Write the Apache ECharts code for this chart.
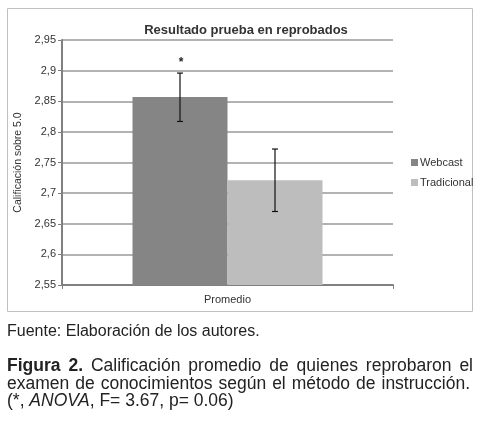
<!DOCTYPE html>
<html>
<head>
<meta charset="utf-8">
<script src="https://cdn.jsdelivr.net/npm/echarts@6/dist/echarts.min.js"></script>
<style>
html,body{margin:0;padding:0;background:#fff}
#chart{width:490px;height:425px}
</style>
</head>
<body>
<div id="chart"></div>
<script>
// datos
var categorias = ['Promedio']
var series = ['Webcast', 'Tradicional']
var medias = [2.857, 2.721]
var errSup = [2.896, 2.772]
var errInf = [2.817, 2.670]
var signif = ['*', '']
var yTicks = ['2,55', '2,6', '2,65', '2,7', '2,75', '2,8', '2,85', '2,9', '2,95']
var colores = ['#858585', '#bdbdbd']

var fuente = 'Liberation Sans'

var chart = echarts.init(document.getElementById('chart'))
var gapCat = 0.426

// pie de figura justificado (palabras colocadas una a una)
var capSize = 17.5
var ctx = document.createElement('canvas').getContext('2d')
function ancho(txt, bold) {
    ctx.font = (bold ? 'bold ' : '') + capSize + 'px "' + fuente + '"'
    return ctx.measureText(txt).width
}
function lineaJust(palabras, y, x0, x1) {
    var tot = 0
    palabras.forEach(function (p) { p.w = ancho(p.t, p.b); tot += p.w })
    var gap = (x1 - x0 - tot) / (palabras.length - 1)
    var x = x0, els = []
    palabras.forEach(function (p) {
        els.push({ type: 'text', x: x, y: y, style: { text: p.t, fontSize: capSize, fontWeight: p.b ? 'bold' : 'normal', fill: '#222', fontFamily: fuente, verticalAlign: 'middle' } })
        x += p.w + gap
    })
    return els
}
function palabras(str, bold) {
    return str.split(' ').map(function (t) { return { t: t, b: bold } })
}
var capEls = []
capEls = capEls.concat(lineaJust(palabras('Figura 2.', true).concat(palabras('Calificación promedio de quienes reprobaron el', false)), 366, 7, 473))
capEls = capEls.concat(lineaJust(palabras('examen de conocimientos según el método de instrucción.', false), 384, 7, 470))
capEls.push({
    type: 'text', x: 7, y: 401.5,
    style: {
        text: '(*, {i|ANOVA}, F= 3.67, p= 0.06)', fontSize: capSize, fill: '#222', fontFamily: fuente, verticalAlign: 'middle',
        rich: { i: { fontStyle: 'italic', fontSize: capSize, fill: '#222', fontFamily: fuente } }
    }
})

var option = {
    animation: false,
    textStyle: { fontFamily: 'Liberation Sans, Arial, sans-serif' },
    title: {
        text: 'Resultado prueba en reprobados',
        left: 241, top: 19, textAlign: 'center',
        textStyle: { fontSize: 13, fontWeight: 'bold', color: '#333' }
    },
    legend: {
        orient: 'vertical',
        left: 406, top: 152,
        itemWidth: 7, itemHeight: 7, itemGap: 9,
        icon: 'rect',
        data: series,
        textStyle: { fontSize: 11, color: '#333', padding: [0, 0, 0, -3] }
    },
    grid: { left: 62, right: 97, top: 40, bottom: 140 },
    xAxis: {
        type: 'category',
        data: categorias,
        axisLine: { lineStyle: { color: '#808080', width: 2 } },
        axisTick: { show: true, length: 4, lineStyle: { color: '#808080' } },
        axisLabel: { fontSize: 11, color: '#333', margin: 9 }
    },
    yAxis: {
        type: 'value',
        min: 2.55, max: 2.95, interval: 0.05,
        name: 'Calificación sobre 5.0',
        nameLocation: 'middle', nameGap: 38, nameRotate: 90,
        nameTextStyle: { fontSize: 10.5, color: '#333' },
        axisLine: { show: true, lineStyle: { color: '#808080', width: 2 } },
        axisTick: { show: true, length: 4, lineStyle: { color: '#808080' } },
        splitLine: { lineStyle: { color: '#999', width: 1.5 } },
        axisLabel: {
            fontSize: 11, color: '#333', margin: 6,
            formatter: function (v) {
                var i = Math.round((v - 2.55) / 0.05)
                return yTicks[i]
            }
        }
    },
    series: [
        { name: series[0], type: 'bar', data: [medias[0]], barGap: '0%', barCategoryGap: '42.6%', itemStyle: { color: colores[0] } },
        { name: series[1], type: 'bar', data: [medias[1]], itemStyle: { color: colores[1] } },
        {
            type: 'custom',
            data: [0, 1].map(function (i) { return [0, errInf[i], errSup[i], i] }),
            z: 10,
            renderItem: function (params, api) {
                var s = api.value(3)
                var catW = api.size([1, 0])[0]
                var barW = catW * (1 - gapCat) / 2
                var off = (s === 0 ? -0.5 : 0.5) * barW
                var lo = api.coord([api.value(0), api.value(1)])
                var hi = api.coord([api.value(0), api.value(2)])
                var x = lo[0] + off
                var st = { stroke: '#111', lineWidth: 1.2 }
                var kids = [
                    { type: 'line', shape: { x1: x, y1: lo[1], x2: x, y2: hi[1] }, style: st },
                    { type: 'line', shape: { x1: x - 3, y1: lo[1], x2: x + 3, y2: lo[1] }, style: st },
                    { type: 'line', shape: { x1: x - 3, y1: hi[1], x2: x + 3, y2: hi[1] }, style: st }
                ]
                if (signif[s]) {
                    kids.push({ type: 'text', style: { text: signif[s], x: x + 1, y: hi[1] - 10, textAlign: 'center', textVerticalAlign: 'middle', fontSize: 12, fontWeight: 'bold', fill: '#222' } })
                }
                return { type: 'group', children: kids }
            }
        }
    ],
    graphic: [
        { type: 'rect', shape: { x: 7.5, y: 8.5, width: 465, height: 303 }, style: { fill: 'none', stroke: '#c0c0c0', lineWidth: 1 } },
        { type: 'text', x: 7, y: 332, style: { text: 'Fuente: Elaboración de los autores.', fontSize: 16, fill: '#222', fontFamily: fuente, verticalAlign: 'middle' } }
    ].concat(capEls)
}
chart.setOption(option)
</script>
</body>
</html>
